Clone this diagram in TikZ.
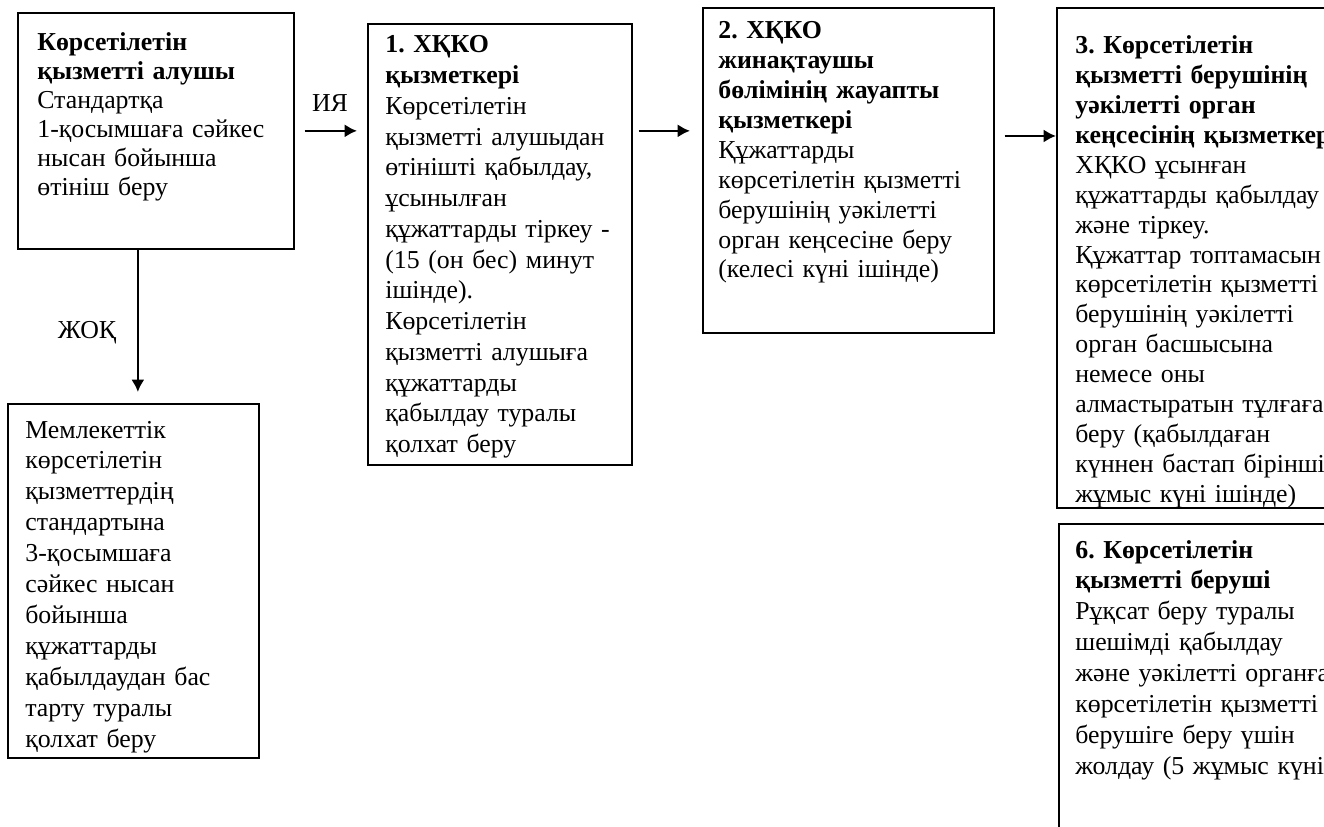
\documentclass[tikz,border=0pt]{standalone}
\usepackage{fontspec}
\setmainfont{Liberation Serif}
\usetikzlibrary{arrows.meta,positioning}
\newcommand{\keng}[1]{\makebox[4.54cm][s]{#1}}
\frenchspacing

\tikzset{
  blok/.style={draw, line width=1pt, inner sep=0pt, anchor=north west},
  matn/.style={anchor=base west, inner sep=0pt, align=left, text width=9cm,
    font=\fontsize{14.7}{17}\selectfont},
  belgi/.style={inner sep=0pt, font=\fontsize{14.7}{17}\selectfont},
  oq/.style={line width=1.4pt, -{Latex[length=7pt,width=7.5pt]}}
}

\begin{document}
\begin{tikzpicture}[x=0.02cm, y=-0.02cm]
  \useasboundingbox (0,0) rectangle (1324,827);
  \clip (0,0) rectangle (1324,827);
  % boxes
  \node[blok, minimum width=5.52cm, minimum height=4.72cm] (alushy) at (17,12) {};
  \node[blok, minimum width=5.28cm, minimum height=8.82cm] (bir) at (367,23) {};
  \node[blok, minimum width=5.82cm, minimum height=6.50cm] (ikki) at (702,7) {};
  \node[blok, minimum width=6.00cm, minimum height=10.00cm] (uch) at (1056,7) {};
  \node[blok, minimum width=6.00cm, minimum height=6.80cm] (alty) at (1058,523) {};
  \node[blok, minimum width=5.02cm, minimum height=7.08cm] (bas) at (7,403) {};
  % texts
  \node[matn, font=\fontsize{14.7}{16.4}\selectfont] (alushyT) at (37,51) {\textbf{Көрсетілетін}\\
    \textbf{қызметті алушы}\\ Стандартқа\\ 1-қосымшаға сәйкес\\
    нысан бойынша\\ өтініш беру};
  \node[matn, font=\fontsize{14.7}{17.5}\selectfont] (birT) at (385,53) {\textbf{1. ХҚКО}\\ \textbf{қызметкері}\\
    Көрсетілетін\\ қызметті алушыдан\\ өтінішті қабылдау,\\ ұсынылған\\
    құжаттарды тіркеу -\\ \keng{(15 (он бес) минут}\\ ішінде).\\
    Көрсетілетін\\ \keng{қызметті алушыға}\\ құжаттарды\\
    \keng{қабылдау туралы}\\ қолхат беру};
  \node[matn] (ikkiT) at (718,39) {\textbf{2. ХҚКО}\\ \textbf{жинақтаушы}\\
    \textbf{бөлімінің жауапты}\\ \textbf{қызметкері}\\ Құжаттарды\\
    көрсетілетін қызметті\\ берушінің уәкілетті\\ орган кеңсесіне беру\\
    (келесі күні ішінде)};
  \node[matn] (uchT) at (1075,54) {\textbf{3. Көрсетілетін}\\
    \textbf{қызметті берушінің}\\ \textbf{уәкілетті орган}\\
    \textbf{кеңсесінің қызметкері}\\ ХҚКО ұсынған\\ құжаттарды қабылдау\\
    және тіркеу.\\ Құжаттар топтамасын\\ көрсетілетін қызметті\\
    берушінің уәкілетті\\ орган басшысына\\ немесе оны\\
    алмастыратын тұлғаға\\ беру (қабылдаған\\ күннен бастап бірінші\\
    жұмыс күні ішінде)};
  \node[matn, font=\fontsize{14.7}{17.6}\selectfont] (altyT) at (1075,558) {\textbf{6. Көрсетілетін}\\
    \textbf{қызметті беруші}\\ Рұқсат беру туралы\\ шешімді қабылдау\\
    және уәкілетті органға\\ көрсетілетін қызметті\\ берушіге беру үшін\\
    жолдау (5 жұмыс күні)};
  \node[matn, font=\fontsize{14.7}{17.6}\selectfont] (basT) at (25,438) {Мемлекеттік\\ көрсетілетін\\
    қызметтердің\\ стандартына\\ 3-қосымшаға\\ сәйкес нысан\\ бойынша\\
    құжаттарды\\ қабылдаудан бас\\ тарту туралы\\ қолхат беру};
  % labels
  \node[belgi] (iya) at (330,103) {ИЯ};
  \node[belgi] (zhoq) at (87,333) {ЖОҚ};
  % arrows
  \draw[oq, shorten <=0.2cm, shorten >=0.2cm] (alushy.east) -- (alushy.east -| bir.west);
  \draw[oq, shorten <=0.12cm, shorten >=0.24cm] (bir.east |- alushy.east) -- (ikki.west |- alushy.east);
  \draw[oq, shorten <=0.2cm] ([yshift=-2.58cm]ikki.north east) -- ([yshift=-2.58cm]ikki.north east -| uch.west);
  \draw[oq, shorten >=0.22cm] ([xshift=-0.36cm]alushy.south) -- ([xshift=-0.36cm]alushy.south |- bas.north);
\end{tikzpicture}
\end{document}
